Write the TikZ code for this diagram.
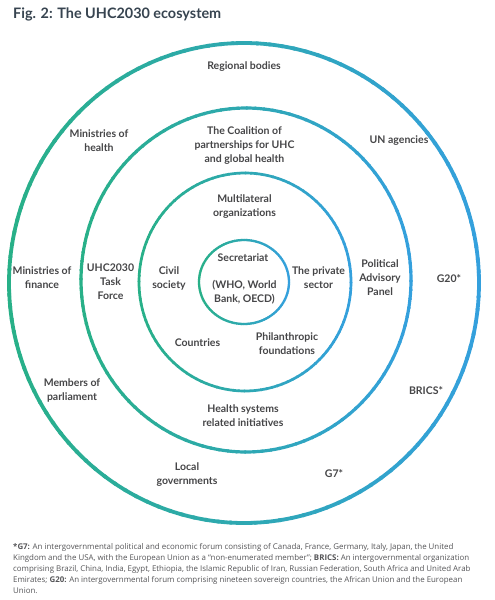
\documentclass[tikz,border=0pt]{standalone}
\usepackage{fontspec}
\setmainfont{Lato}
\newfontfamily\notefont{Open Sans}
\definecolor{greenc}{RGB}{40,176,136}
\definecolor{bluec}{RGB}{52,160,222}
\definecolor{labelgray}{RGB}{70,70,72}
\definecolor{titlec}{RGB}{55,68,80}
\definecolor{notegray}{RGB}{85,85,88}
\newcommand{\gradring}[5]{%
  \foreach \a in {0,3,...,357}{%
    \pgfmathtruncatemacro{\p}{50+50*cos(\a+1.5)}%
    \draw[line width=#5, bluec!\p!greenc] (#1,#2) ++(\a:#3 and #4)
      arc[start angle=\a, end angle=\a+3.6, x radius=#3, y radius=#4];
  }%
}
\tikzset{
  lbl/.style={align=center, inner sep=0pt, text=labelgray,
    font={\bfseries\fontsize{10.5}{14}\selectfont}},
}
\begin{document}
\begin{tikzpicture}[x=1pt,y=-1pt]
\useasboundingbox (0,0) rectangle (495,600);
\fill[white] (0,0) rectangle (495,600);
% rings
\gradring{244}{283}{235}{240}{3.8pt}
\gradring{246}{280}{165}{172}{3.2pt}
\gradring{245}{282}{106}{109}{2.7pt}
\gradring{244}{282}{45}{42}{2.3pt}
% title
\node[anchor=west, inner sep=0pt, text=titlec, font={\bfseries\fontsize{14.4}{16}\selectfont}] (title) at (13,14) {Fig. 2: The UHC2030 ecosystem};
% outer ring labels
\node[lbl] (regional) at (244,67) {Regional bodies};
\node[lbl] (minhealth) at (99,141) {Ministries of\\health};
\node[lbl] (un) at (399,141) {UN agencies};
\node[lbl] (minfin) at (42,278) {Ministries of\\finance};
\node[lbl] (g20) at (449,279) {G20*};
\node[lbl] (members) at (72,390) {Members of\\parliament};
\node[lbl] (brics) at (426,391) {BRICS*};
\node[lbl] (local) at (187,475) {Local\\governments};
\node[lbl] (g7) at (334,474) {G7*};
% middle ring labels
\node[lbl] (coalition) at (244.5,146) {The Coalition of\\partnerships for UHC\\and global health};
\node[lbl] (taskforce) at (110.5,282) {UHC2030\\Task\\Force};
\node[lbl] (pap) at (380,278) {Political\\Advisory\\Panel};
\node[lbl] (hsri) at (243,416) {Health systems\\related initiatives};
% inner ring labels
\node[lbl] (multi) at (244.5,207) {Multilateral\\organizations};
\node[lbl] (civil) at (169,278) {Civil\\society};
\node[lbl] (private) at (318.5,278) {The private\\sector};
\node[lbl] (countries) at (197.5,343) {Countries};
\node[lbl] (philan) at (287,344) {Philanthropic\\foundations};
% centre
\node[lbl] (secr) at (243,258) {Secretariat};
\node[lbl] (who) at (244.5,292) {(WHO, World\\Bank, OECD)};
% footnote
\node[anchor=north west, align=left, inner sep=0pt, text=notegray,
  font={\notefont\fontsize{7.9}{11}\selectfont}] (note) at (13,543)
{\textbf{*G7:} An intergovernmental political and economic forum consisting of Canada, France, Germany, Italy, Japan, the United\\
Kingdom and the USA, with the European Union as a “non-enumerated member”; \textbf{BRICS:} An intergovernmental organization\\
comprising Brazil, China, India, Egypt, Ethiopia, the Islamic Republic of Iran, Russian Federation, South Africa and United Arab\\
Emirates; \textbf{G20:} An intergovernmental forum comprising nineteen sovereign countries, the African Union and the European\\
Union.};
\end{tikzpicture}
\end{document}
